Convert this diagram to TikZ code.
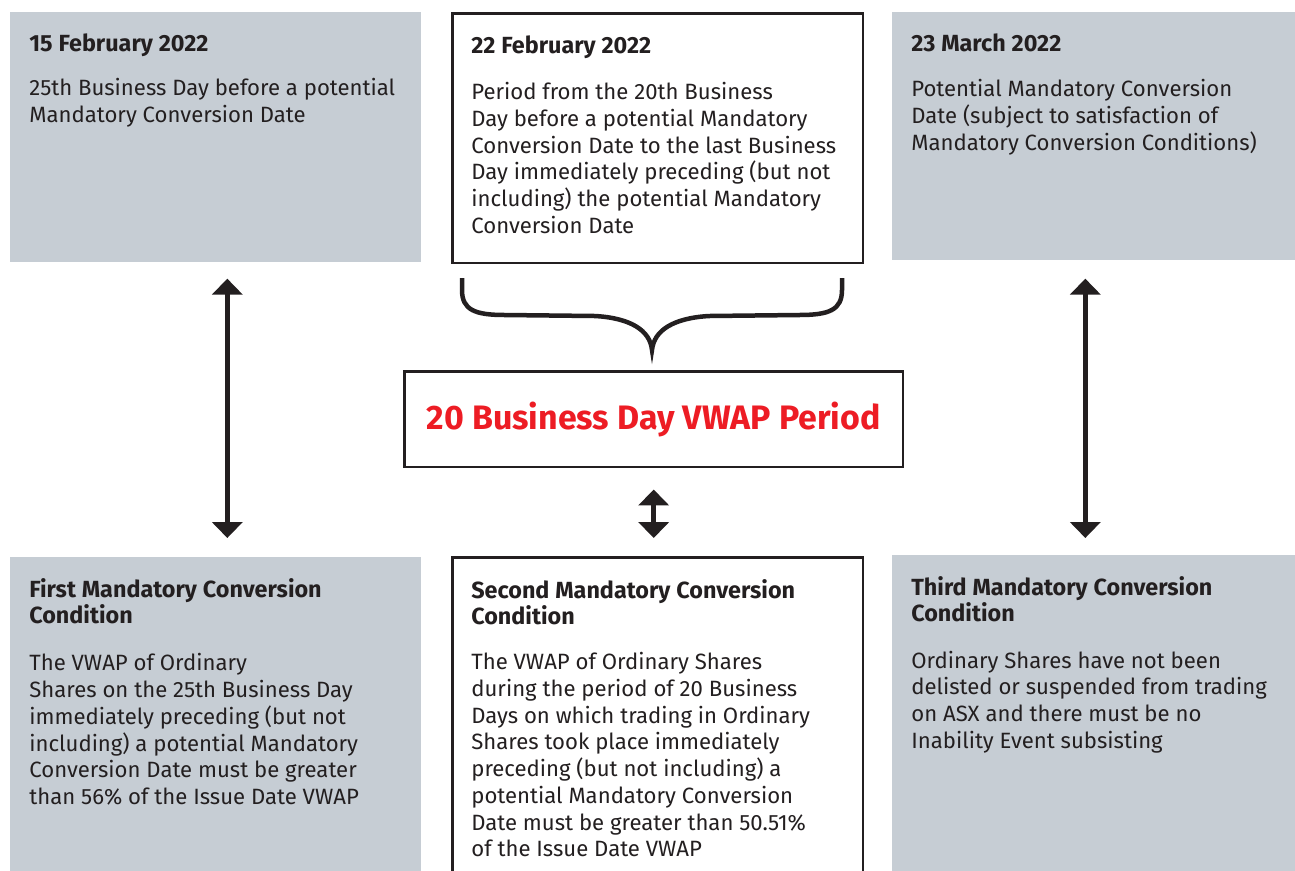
\documentclass[tikz,border=0pt]{standalone}
\usepackage{fontspec}
\setmainfont{Fira Sans}
\usetikzlibrary{positioning,arrows.meta}
\definecolor{grisbleu}{RGB}{198,205,212}
\definecolor{noir}{RGB}{35,31,32}
\definecolor{rouge}{RGB}{237,28,36}
\newcommand{\titre}{\fontsize{13.3}{14.7}\selectfont\bfseries}
\newcommand{\corps}{\fontsize{12.6}{15.2}\selectfont\mdseries}

\begin{document}
\begin{tikzpicture}[x=0.02cm, y=-0.02cm]
\tikzstyle{gris} = [rectangle, fill=grisbleu, anchor=north west, minimum width=8.22cm];
\tikzstyle{cadre} = [rectangle, draw=noir, line width=0.05cm, fill=white, anchor=north west, minimum width=8.22cm];
\tikzstyle{texte} = [anchor=north west, inner sep=0pt, text width=7.8cm, align=left, text=noir];
\tikzstyle{fleche} = [{Triangle[width=0.6cm,length=0.32cm]}-{Triangle[width=0.6cm,length=0.32cm]}, line width=0.1cm, draw=noir];

\useasboundingbox (0,0) rectangle (1295,870);

\node[gris, minimum height=5cm] (b1) at (10,12) {};
\node[cadre, minimum height=5cm] (b2) at (451,12) {};
\node[gris, minimum height=4.96cm, minimum width=8.06cm] (b3) at (892,12) {};
\node[gris, minimum height=6.4cm] (b4) at (10,557) {};
\node[cadre, minimum height=6.5cm] (b5) at (451,556) {};
\node[gris, minimum height=6.4cm, minimum width=8.06cm] (b6) at (892,555) {};
\node[cadre, minimum width=9.98cm, minimum height=1.92cm] (vw) at (403,370)
  {\fontsize{19.3}{22}\selectfont\bfseries\color{rouge}20 Business Day VWAP Period};

\node[texte, below right=0.43cm and 0.38cm of b1.north west] (t1) {\titre 15 February 2022\par\vspace{10pt}\corps
  25th Business Day before a potential\\Mandatory Conversion Date\par};
\node[texte, below right=0.47cm and 0.4cm of b2.north west] (t2) {\titre 22 February 2022\par\vspace{11pt}\corps
  Period from the 20th Business\\Day before a potential Mandatory\\Conversion Date to the last Business\\Day immediately preceding (but not\\including) the potential Mandatory\\Conversion Date\par};
\node[texte, below right=0.43cm and 0.38cm of b3.north west] (t3) {\titre 23 March 2022\par\vspace{10.5pt}\corps
  Potential Mandatory Conversion\\Date (subject to satisfaction of\\Mandatory Conversion Conditions)\par};
\node[texte, below right=0.42cm and 0.38cm of b4.north west] (t4) {\titre First Mandatory Conversion\\Condition\par\vspace{12pt}\corps
  The VWAP of Ordinary\\Shares on the 25th Business Day\\immediately preceding (but not\\including) a potential Mandatory\\Conversion Date must be greater\\than 56\% of the Issue Date VWAP\par};
\node[texte, below right=0.47cm and 0.4cm of b5.north west] (t5) {\titre Second Mandatory Conversion\\Condition\par\vspace{10.5pt}\corps
  The VWAP of Ordinary Shares\\during the period of 20 Business\\Days on which trading in Ordinary\\Shares took place immediately\\preceding (but not including) a\\potential Mandatory Conversion\\Date must be greater than 50.51\%\\of the Issue Date VWAP\par};
\node[texte, below right=0.42cm and 0.38cm of b6.north west] (t6) {\titre Third Mandatory Conversion\\Condition\par\vspace{11.5pt}\corps
  Ordinary Shares have not been\\delisted or suspended from trading\\on ASX and there must be no\\Inability Event subsisting\par};

% accolade
\draw[noir, line width=0.09cm, line join=miter] (462,278) -- (462,290) .. controls (462,310) and (475,315) .. (505,315)
  -- (595,316) .. controls (630,318) and (650,330) .. (652,350) .. controls (654,330) and (674,318) .. (709,316)
  -- (799,315) .. controls (829,315) and (842,310) .. (842,290) -- (842,278);

\draw[fleche, shorten <=0.32cm, shorten >=0.38cm] ([xshift=0.23cm]b1.south) -- ([xshift=0.23cm]b4.north);
\draw[fleche, shorten <=0.36cm, shorten >=0.34cm] ([xshift=-0.17cm]b3.south) -- ([xshift=-0.17cm]b6.north);
\draw[fleche, shorten <=0.42cm, shorten >=0.36cm] (vw.south) -- (vw.south |- b5.north);
\end{tikzpicture}
\end{document}
